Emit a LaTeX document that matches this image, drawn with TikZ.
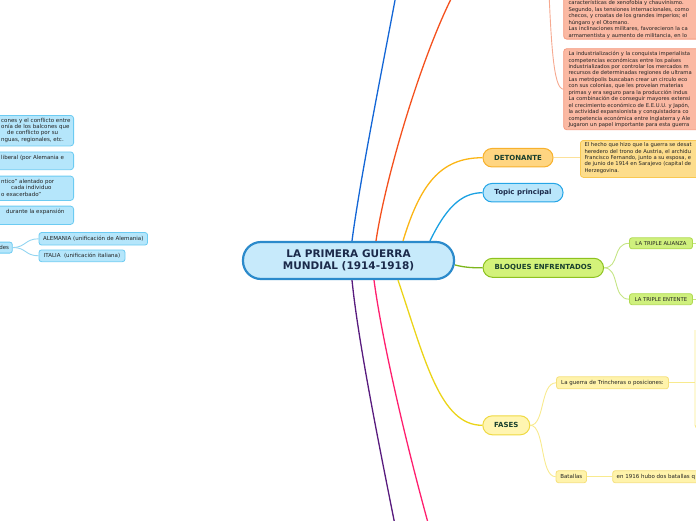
\documentclass[tikz,border=0pt]{standalone}
\usepackage{fontspec}
\setmainfont{DejaVu Sans}
\definecolor{mainfill}{HTML}{C7EAFB}
\definecolor{mainbd}{HTML}{2B8ACB}
\definecolor{navy}{HTML}{1B2A4A}
\definecolor{dgreen}{HTML}{183F2E}
\definecolor{blueA}{HTML}{1366D6}
\definecolor{orng}{HTML}{F4511E}
\definecolor{gold}{HTML}{FBB515}
\definecolor{tblue}{HTML}{1BA1E2}
\definecolor{grn}{HTML}{7DB61C}
\definecolor{yel}{HTML}{EBD418}
\definecolor{pink}{HTML}{FF1F6E}
\definecolor{purp}{HTML}{581B7E}
\definecolor{detfill}{HTML}{FFD581}
\definecolor{detbd}{HTML}{F7B12D}
\definecolor{dbfill}{HTML}{FDDD8C}
\definecolor{dbbd}{HTML}{F9C851}
\definecolor{dbline}{HTML}{FCE19A}
\definecolor{topfill}{HTML}{B9E6FB}
\definecolor{topbd}{HTML}{25A5E6}
\definecolor{bqfill}{HTML}{D3F27A}
\definecolor{bqbd}{HTML}{8DC21F}
\definecolor{trfill}{HTML}{CFF07D}
\definecolor{trbd}{HTML}{B0DA50}
\definecolor{trline}{HTML}{C5E585}
\definecolor{fsfill}{HTML}{FFF5B1}
\definecolor{fsbd}{HTML}{EFD942}
\definecolor{yfill}{HTML}{FFF3AB}
\definecolor{ybd}{HTML}{F5E07C}
\definecolor{yline}{HTML}{F8EA8E}
\definecolor{salfill}{HTML}{FBB9A3}
\definecolor{salbd}{HTML}{F59A80}
\definecolor{salline}{HTML}{F6A990}
\definecolor{lbfill}{HTML}{B5E6FB}
\definecolor{lbbd}{HTML}{6CCBF2}
\definecolor{lbline}{HTML}{93D5F1}
\definecolor{txt}{HTML}{222222}
\begin{document}
\begin{tikzpicture}[x=1pt,y=-1pt,
  small/.style={font=\fontsize{5.25}{6.45}\selectfont, text=txt, inner sep=0pt, align=left, anchor=north west},
  one/.style={font=\fontsize{5.5}{6.45}\selectfont, text=txt, inner sep=0pt, anchor=base west},
  pill/.style={line width=1pt, font=\fontsize{7}{8}\selectfont\bfseries, inner sep=0pt},
  sbox/.style={line width=0.8pt, rounded corners=2.5pt, inner sep=0pt, font=\fontsize{5.5}{6}\selectfont, text=txt},
  branch/.style={line width=1.3pt},
  twig/.style={line width=0.9pt}]
\useasboundingbox (0,0) rectangle (696,520);
\clip (0,0) rectangle (696,520);

% ---- central node
\node[draw=mainbd, fill=mainfill, line width=2.2pt, rounded corners=18pt,
  minimum width=211pt, minimum height=37pt, inner sep=0pt,
  font=\fontsize{10.5}{11.7}\selectfont\bfseries, text=navy, align=center]
  (main) at (348.5,260.5) {LA PRIMERA GUERRA\\MUNDIAL (1914-1918)};

% ---- off-screen ends
\coordinate (blueEnd) at (396,-5);
\coordinate (orngEnd) at (453,-5);
\coordinate (pinkEnd) at (430,530);
\coordinate (purpEnd) at (396,530);

% ---- level-1 nodes
\node[pill, draw=detbd, fill=detfill, text=dgreen, rounded corners=9pt,
  minimum width=70pt, minimum height=18.5pt] (det) at (518,157.7) {DETONANTE};
\node[pill, draw=topbd, fill=topfill, text=navy, rounded corners=9pt,
  minimum width=80pt, minimum height=18.5pt] (topic) at (523,192.7) {Topic principal};
\node[pill, draw=bqbd, fill=bqfill, text=dgreen, rounded corners=9.5pt,
  minimum width=120.5pt, minimum height=19pt] (bloq) at (543.3,267.8) {BLOQUES ENFRENTADOS};
\node[pill, draw=fsbd, fill=fsfill, text=dgreen, rounded corners=9.5pt,
  minimum width=47pt, minimum height=19pt] (fases) at (506.3,425.3) {FASES};

% ---- main branches
\draw[branch, blueA] ([xshift=3.5pt]main.north) .. controls (360,180) and (380,80) .. (blueEnd);
\draw[branch, orng] ([xshift=27.5pt]main.north) .. controls (385,180) and (420,60) .. (orngEnd);
\draw[branch, gold] ([xshift=54.5pt]main.north) .. controls (420,185) and (440,157.7) .. (det.west);
\draw[branch, tblue] ([xshift=81.5pt]main.north) .. controls (445,210) and (460,192.7) .. (topic.west);
\draw[branch, grn] ([yshift=-4.5pt]main.east) .. controls (465,267.5) and (472,267.8) .. (bloq.west);
\draw[branch, yel] ([xshift=49.5pt]main.south) .. controls (425,360) and (440,425.3) .. (fases.west);
\draw[branch, pink] ([xshift=25.5pt]main.south) .. controls (382,340) and (405,440) .. (pinkEnd);
\draw[branch, purp] ([xshift=3.5pt]main.south) .. controls (358,340) and (378,440) .. (purpEnd);

% ---- top-right salmon boxes
\coordinate (salPar) at (548,-30);
\node[draw=salbd, fill=salfill, line width=0.8pt, rounded corners=3pt,
  minimum width=160pt, minimum height=60pt, anchor=south west, inner sep=0pt] (boxA) at (563.3,39.5) {};
\node[small] (boxAt) at (568.3,0.2) {\rule{0pt}{4.4pt}características de xenofobia y chauvinismo.\\
Segundo, las tensiones internacionales, como\\
checos, y croatas de los grandes imperios; el\\
húngaro y el Otomano.\\
Las inclinaciones militares, favorecieron la ca\\
armamentista y aumento de militancia, en lo};
\node[draw=salbd, fill=salfill, line width=0.8pt, rounded corners=3pt,
  minimum width=160pt, minimum height=81pt, anchor=north west, inner sep=0pt] (boxB) at (563.3,48.3) {};
\node[small] (boxBt) at (568.3,51.0) {\rule{0pt}{4.4pt}La industrialización y la conquista imperialista\\
competencias económicas entre los países\\
industrializados por controlar los mercados m\\
recursos de determinadas regiones de ultrama\\
Las metrópolis buscaban crear un circulo eco\\
con sus colonias, que les proveían materias\\
primas y era seguro para la producción indus\\
La combinación de conseguir mayores extensi\\
el crecimiento económico de E.E.U.U. y Japón,\\
la actividad expansionista y conquistadora co\\
competencia económica entre Inglaterra y Ale\\
Jugaron un papel importante para esta guerra};
\draw[twig, salline] (salPar) .. controls (549,0) and (553,7) .. ([yshift=20pt]boxA.west);
\draw[twig, salline] (salPar) .. controls (551,40) and (553,88.8) .. (boxB.west);

% ---- detonante text box
\node[draw=dbbd, fill=dbfill, line width=0.8pt, rounded corners=3pt,
  minimum width=140pt, minimum height=37pt, anchor=north west, inner sep=0pt] (dbox) at (580,140) {};
\node[small] (dboxt) at (584.3,142.0) {\rule{0pt}{4.4pt}El hecho que hizo que la guerra se desat\\
heredero del trono de Austria, el archidu\\
Francisco Fernando, junto a su esposa, e\\
de junio de 1914 en Sarajevo (capital de\\
Herzegovina.};
\draw[twig, dbline] (det.east) -- (dbox.west |- det.east);

% ---- bloques children
\node[sbox, draw=trbd, fill=trfill, minimum width=63pt, minimum height=11pt,
  font=\fontsize{5.3}{6}\selectfont] (alianza) at (661,243.3) {LA TRIPLE ALIANZA};
\node[sbox, draw=trbd, fill=trfill, minimum width=63pt, minimum height=11pt,
  font=\fontsize{5.3}{6}\selectfont] (entente) at (661,299.2) {LA TRIPLE ENTENTE};
\coordinate (aliEnd) at (700,243.3);
\coordinate (entEnd) at (700,299.2);
\draw[twig, trline] (bloq.east) .. controls (620,267.8) and (612,243.3) .. (alianza.west);
\draw[twig, trline] (bloq.east) .. controls (620,267.8) and (612,299.2) .. (entente.west);
\draw[twig, trline] (alianza.east) -- (aliEnd);
\draw[twig, trline] (entente.east) -- (entEnd);

% ---- fases children
\node[sbox, draw=ybd, fill=yfill, minimum width=112pt, minimum height=12pt] (trinch) at (612.5,382.8) {La guerra de Trincheras o posiciones:};
\node[sbox, draw=ybd, fill=yfill, minimum width=30.5pt, minimum height=12pt] (batallas) at (571.3,476.7) {Batallas};
\node[draw=ybd, fill=yfill, line width=0.8pt, rounded corners=2.5pt,
  minimum width=120pt, minimum height=12pt, anchor=west, inner sep=0pt] (b1916) at (612.3,476.7) {};
\node[one] (b1916t) at (616.5,478.6) {en 1916 hubo dos batallas q};
\coordinate (brk) at (695,382.8);
\coordinate (brkTop) at (695,330);
\coordinate (brkBot) at (700,429);
\draw[twig, yline] (fases.east) .. controls (545,425.3) and (540,382.8) .. (trinch.west);
\draw[twig, yline] (fases.east) .. controls (545,425.3) and (540,476.7) .. (batallas.west);
\draw[twig, yline] (trinch.east) -- (brk);
\draw[twig, yline, rounded corners=4pt] (brkTop) -- (695,429) -- (brkBot);
\draw[twig, yline] (batallas.east) -- (b1916.west);

% ---- left side boxes
\node[draw=lbbd, fill=lbfill, line width=0.8pt, rounded corners=3pt,
  minimum width=104pt, minimum height=30.5pt, anchor=north east, inner sep=0pt] (lb1) at (74,115) {};
\node[one] (lb1a) at (1,122.4) {cones y el conflicto entre};
\node[one] (lb1b) at (1,128.6) {onía de los balcones que};
\node[one] (lb1c) at (7,134.9) {de conflicto por su};
\node[one] (lb1d) at (1,141.0) {nguas, regionales, etc.};
\node[draw=lbbd, fill=lbfill, line width=0.8pt, rounded corners=3pt,
  minimum width=104pt, minimum height=17.8pt, anchor=north east, inner sep=0pt] (lb2) at (74,151.5) {};
\node[one] (lb2t) at (1,159.1) {liberal (por Alemania e};
\node[draw=lbbd, fill=lbfill, line width=0.8pt, rounded corners=3pt,
  minimum width=104pt, minimum height=24.3pt, anchor=north east, inner sep=0pt] (lb3) at (74,175.7) {};
\node[one] (lb3a) at (1,183.1) {ntico" alentado por};
\node[one] (lb3b) at (11,189.7) {cada individuo};
\node[one] (lb3c) at (1,196.4) {o exacerbado"};
\node[draw=lbbd, fill=lbfill, line width=0.8pt, rounded corners=3pt,
  minimum width=104pt, minimum height=18.3pt, anchor=north east, inner sep=0pt] (lb4) at (74,205.7) {};
\node[one] (lb4t) at (6,213.1) {durante la expansión};
\node[draw=lbbd, fill=lbfill, line width=0.8pt, rounded corners=2.5pt,
  minimum width=40pt, minimum height=11pt, anchor=north east, inner sep=0pt] (lb5) at (12.7,241.7) {};
\node[one, anchor=base east] (lb5t) at (9.2,249.0) {des};
\node[sbox, draw=lbbd, fill=lbfill, minimum width=108.5pt, minimum height=12.5pt] (alem) at (93.3,238.8) {ALEMANIA (unificación de Alemania)};
\node[sbox, draw=lbbd, fill=lbfill, minimum width=86pt, minimum height=11.7pt] (italia) at (82,255.8) {ITALIA\ \ (unificación italiana)};
\draw[twig, lbline] (lb5.east) .. controls (26,247.2) and (25,238.8) .. (alem.west);
\draw[twig, lbline] (lb5.east) .. controls (26,247.2) and (25,255.8) .. (italia.west);
\end{tikzpicture}
\end{document}
